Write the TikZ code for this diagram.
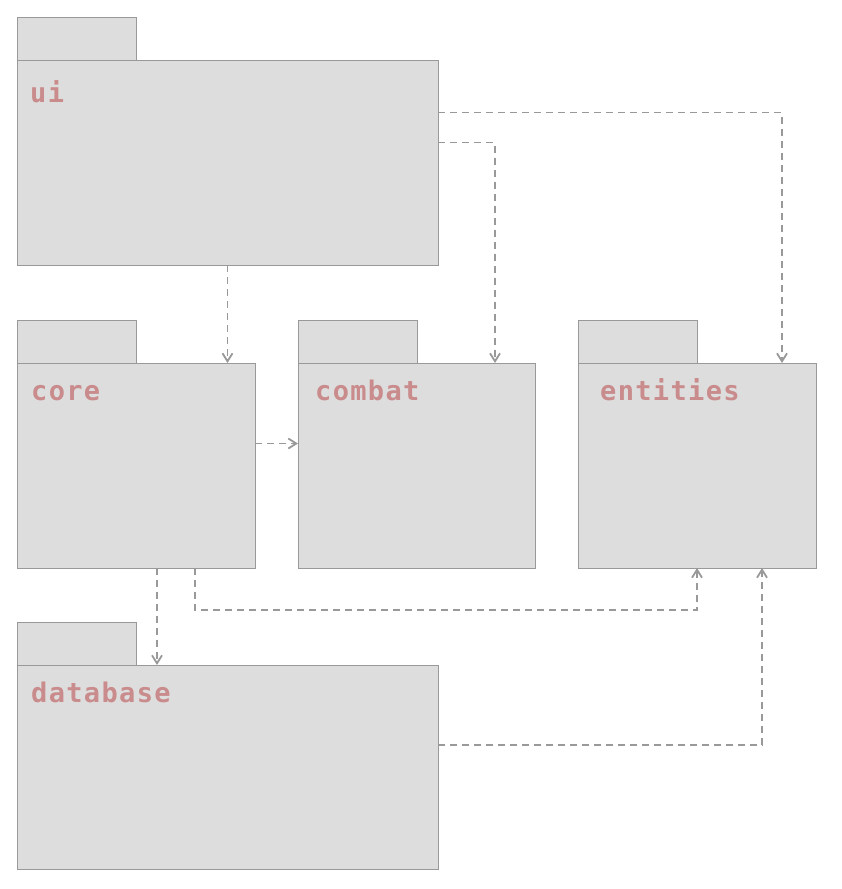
\documentclass[tikz,border=0pt]{standalone}
\usepackage{fontspec}
\newfontfamily\pkgfont{DejaVu Sans Mono}[LetterSpace=5]
\usepackage{tikz}
\usetikzlibrary{arrows.meta,positioning}
\definecolor{pkgfill}{HTML}{DDDDDD}
\definecolor{pkgline}{HTML}{999999}
\definecolor{pkgtext}{HTML}{C98B8B}
\tikzstyle{pkg} = [draw=pkgline, fill=pkgfill, line width=1pt, inner sep=0pt,
outer sep=0pt, anchor=north west, minimum height=205pt]
\tikzstyle{pkgtab} = [draw=pkgline, fill=pkgfill, line width=1pt, inner sep=0pt,
outer sep=0pt, anchor=south west, minimum width=119pt, minimum height=43pt]
\tikzstyle{pkgname} = [text=pkgtext, font=\pkgfont\bfseries\fontsize{27}{27}\selectfont,
inner sep=0pt, anchor=base west]
\tikzstyle{dep} = [draw=pkgline, line width=1.8pt, dash pattern=on 7pt off 5pt,
-{Straight Barb[length=8pt,width=10pt]}]

\begin{document}
\begin{tikzpicture}[x=1pt, y=-1pt]
	\useasboundingbox (0,0) rectangle (841,889);
	% Place packages
	\node [pkg, minimum width=421pt] (ui) at (17,60) {};
	\node [pkgtab] (uitab) at (ui.north west) {};
	\node [pkg, minimum width=238pt] (core) at (17,363) {};
	\node [pkgtab] (coretab) at (core.north west) {};
	\node [pkg, minimum width=237pt] (combat) at (298,363) {};
	\node [pkgtab] (combattab) at (combat.north west) {};
	\node [pkg, minimum width=238pt] (entities) at (578,363) {};
	\node [pkgtab] (entitiestab) at (entities.north west) {};
	\node [pkg, minimum width=421pt, minimum height=204pt] (database) at (17,665) {};
	\node [pkgtab] (databasetab) at (database.north west) {};
	
	% Package names
	\node [pkgname] (uiname) at (30,102) {ui};
	\node [pkgname] (corename) at (31,400) {core};
	\node [pkgname] (combatname) at (315,400) {combat};
	\node [pkgname] (entitiesname) at (600,400) {entities};
	\node [pkgname] (databasename) at (31,702) {database};
	
	% Dependencies
	\path [dep] (ui.south) -- (ui.south |- core.north);
	\path [dep] ([yshift=20pt]ui.east) -| ([xshift=-40pt]combat.north east);
	\path [dep] ([yshift=50pt]ui.east) -| ([xshift=-34pt]entities.north east);
	\path [dep] ([yshift=22pt]core.east) -- ([yshift=22pt]core.east -| combat.west);
	\path [dep] ([xshift=21pt]core.south) -- ([xshift=21pt]core.south |- database.north);
	\path [dep] ([xshift=59pt]core.south) -- ++(0,42) -| (entities.south);
	\path [dep] ([yshift=22pt]database.east) -| ([xshift=65pt]entities.south);
	
\end{tikzpicture}
\end{document}
